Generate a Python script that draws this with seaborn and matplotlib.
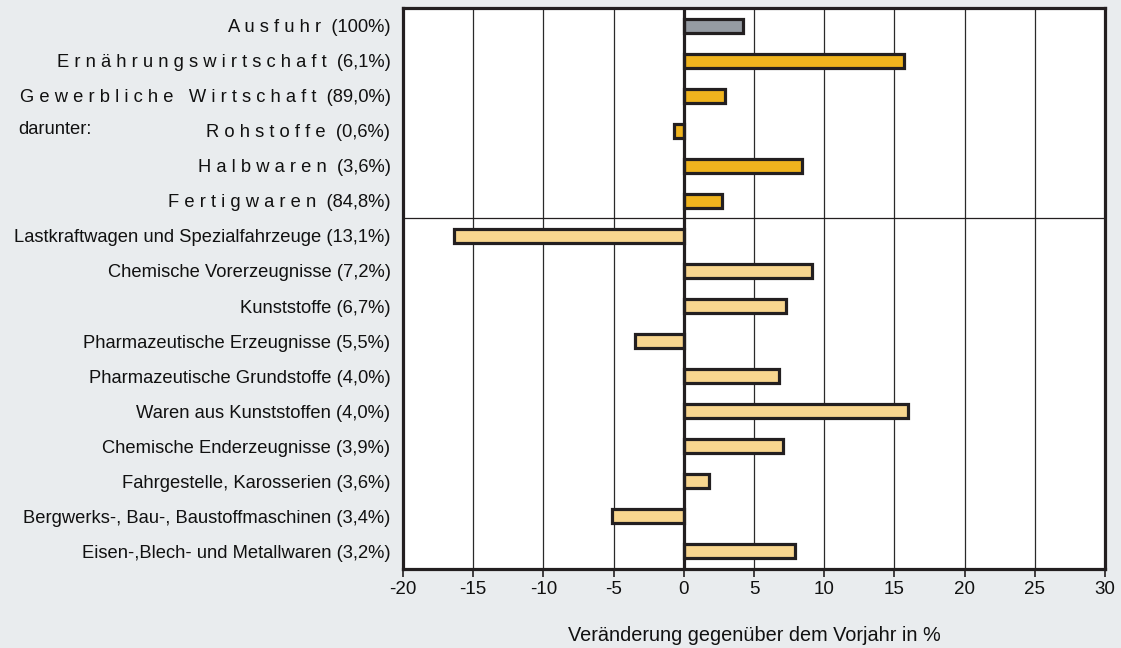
import matplotlib
matplotlib.use("Agg")
import matplotlib.pyplot as plt
import seaborn as sns
import pandas as pd

# Export change versus previous year, by product group (share of exports in brackets)
names = [
    "Ausfuhr", "Ernährungswirtschaft", "Gewerbliche Wirtschaft", "Rohstoffe",
    "Halbwaren", "Fertigwaren",
    "Lastkraftwagen und Spezialfahrzeuge", "Chemische Vorerzeugnisse",
    "Kunststoffe", "Pharmazeutische Erzeugnisse", "Pharmazeutische Grundstoffe",
    "Waren aus Kunststoffen", "Chemische Enderzeugnisse",
    "Fahrgestelle, Karosserien", "Bergwerks-, Bau-, Baustoffmaschinen",
    "Eisen-,Blech- und Metallwaren",
]
shares = ["100%", "6,1%", "89,0%", "0,6%", "3,6%", "84,8%",
          "13,1%", "7,2%", "6,7%", "5,5%", "4,0%", "4,0%", "3,9%", "3,6%",
          "3,4%", "3,2%"]
changes = [4.2, 15.7, 2.9, -0.7, 8.4, 2.7,
           -16.4, 9.1, 7.3, -3.5, 6.8, 16.0, 7.1, 1.8, -5.1, 7.9]
groups = ["Gesamt"] + ["Bereich"] * 5 + ["Warengruppe"] * 10
spaced = [True] * 6 + [False] * 10

xticks = [-20, -15, -10, -5, 0, 5, 10, 15, 20, 25, 30]
xlabel = "Veränderung gegenüber dem Vorjahr in %"

palette = {"Gesamt": "#959BA2", "Bereich": "#F0B41E", "Warengruppe": "#F8D68F"}
bg = "#E9ECEE"
ink = "#231F20"


def label_text(name, share, wide):
    if wide:
        name = "   ".join(" ".join(word) for word in name.split(" "))
        return f"{name}  ({share})"
    return f"{name} ({share})"


labels = [label_text(n, s, w) for n, s, w in zip(names, shares, spaced)]
df = pd.DataFrame({"name": names, "change": changes, "group": groups})

sns.set_theme(style="white")
plt.rcParams["font.family"] = ["Liberation Sans", "DejaVu Sans"]

fig = plt.figure(figsize=(11.21, 6.48), dpi=100, facecolor=bg)
ax = fig.add_axes([403 / 1121, 1 - 569 / 648, 702 / 1121, 561 / 648])
ax.set_facecolor("white")

# vertical grid behind the bars
for xv in xticks:
    ax.axvline(xv, color="#2a2a2a", lw=0.9, zorder=0)

sns.barplot(data=df, x="change", y="name", hue="group", palette=palette,
            saturation=1, dodge=False, orient="h", width=0.4, edgecolor=ink,
            linewidth=2.3, legend=False, ax=ax, zorder=3)

ax.axvline(0, color=ink, lw=2.3, zorder=4)
ax.axhline(5.5, color=ink, lw=0.9, zorder=2)

ax.set_xlim(-20, 30)
ax.set_ylim(len(names) - 0.5, -0.5)
ax.set_xticks(xticks)
ax.set_xticklabels([str(t) for t in xticks], fontsize=13.5)
ax.set_yticks(range(len(names)))
ax.set_yticklabels(labels, fontsize=13.2, color="#111111")
ax.tick_params(axis="x", direction="out", length=6, width=1.2, color=ink,
               bottom=True, pad=3, labelcolor="#111111")
ax.tick_params(axis="y", left=False, length=0, pad=9)
ax.set_xlabel(xlabel, fontsize=14.3, color="#111111", labelpad=20)
ax.set_ylabel("")

for sp in ax.spines.values():
    sp.set_visible(True)
    sp.set_color(ink)
    sp.set_linewidth(2.3)

fig.text(18 / 1121, 1 - 130 / 648, "darunter:", fontsize=13.2, color="#111111",
         ha="left", va="center")

fig.savefig("out.png", dpi=100, facecolor=bg)
